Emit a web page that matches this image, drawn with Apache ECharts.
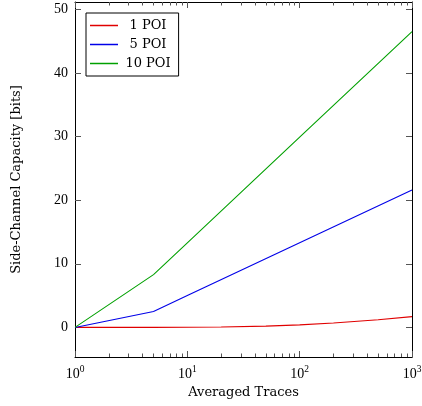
<!DOCTYPE html>
<html><head><meta charset="utf-8">
<script src="https://cdn.jsdelivr.net/npm/echarts@6/dist/echarts.min.js"></script>
<style>html,body{margin:0;padding:0;background:#fff}#c{width:422px;height:406px}</style>
</head><body><div id="c"></div>
<script>
// ---- data ----
const tracesRed = [1, 5, 10, 20, 50, 100, 200, 500, 1000];
const poi1 = [0, 0.01, 0.02, 0.06, 0.2, 0.4, 0.7, 1.2, 1.7];
const tracesLin = [1, 5, 10, 100, 1000];
const poi5 = [0, 2.5, 5.0, 13.3, 21.6];
const poi10 = [0, 8.3, 13.3, 29.9, 46.5];
const seriesNames = ['1 POI', '5 POI', '10 POI'];
const yTicks = [0, 10, 20, 30, 40, 50];
const xMajor = [1, 10, 100, 1000];
const xMinor = [2, 3, 4, 5, 6, 7, 8, 9, 20, 30, 40, 50, 60, 70, 80, 90, 200, 300, 400, 500, 600, 700, 800, 900];
const xTitle = 'Averaged Traces';
const yTitle = 'Side-Channel Capacity [bits]';

const TF = 'DejaVu Serif';
const NF = 'Liberation Serif';
const pairs = (xs, ys) => xs.map((x, i) => [x, ys[i]]);
const minorLog = xMinor.map(v => Math.log10(v));
const tickColor = '#555';

const xAxisBase = (pos, showLabel) => ({
  type: 'log', logBase: 10, min: 1, max: 1000, position: pos,
  axisLine: { show: true, onZero: false, lineStyle: { color: '#000', width: 1 } },
  axisTick: { show: true, inside: true, length: 6, customValues: xMajor, lineStyle: { color: tickColor, width: 1 } },
  splitLine: { show: false },
  axisLabel: showLabel ? {
    show: true, margin: 7, customValues: xMajor,
    formatter: v => '{b|10}{s|' + Math.round(Math.log10(v)) + '}',
    rich: {
      b: { fontFamily: NF, fontSize: 14, color: '#000', verticalAlign: 'bottom' },
      s: { fontFamily: NF, fontSize: 9.5, color: '#000', verticalAlign: 'bottom', padding: [0, 0, 7, 0] }
    }
  } : { show: false },
  name: showLabel ? xTitle : '', nameLocation: 'middle', nameGap: 29,
  nameTextStyle: { fontFamily: TF, fontSize: 13, color: '#000' }
});
const xMinorAxis = (pos) => ({
  type: 'value', min: 0, max: 3, position: pos,
  axisLine: { show: false, onZero: false },
  axisTick: { show: true, inside: true, length: 3.5, customValues: minorLog, lineStyle: { color: tickColor, width: 1 } },
  axisLabel: { show: false }, splitLine: { show: false }
});
const yAxisBase = (pos, showLabel) => ({
  type: 'value', min: -4.65, max: 51.15, position: pos,
  axisLine: { show: true, onZero: false, lineStyle: { color: '#000', width: 1 } },
  axisTick: { show: true, inside: true, length: 6, customValues: yTicks, lineStyle: { color: tickColor, width: 1 } },
  splitLine: { show: false },
  axisLabel: showLabel ? { show: true, margin: 7, customValues: yTicks, fontFamily: NF, fontSize: 14, color: '#000' } : { show: false },
  name: showLabel ? yTitle : '', nameLocation: 'middle', nameGap: 52,
  nameTextStyle: { fontFamily: TF, fontSize: 13, color: '#000' }
});

const chart = echarts.init(document.getElementById('c'), null, { renderer: 'canvas' });
chart.setOption({
  animation: false,
  backgroundColor: '#fff',
  grid: { left: 75, right: 10, top: 2, bottom: 49, containLabel: false, outerBoundsMode: 'none' },
  xAxis: [xAxisBase('bottom', true), xAxisBase('top', false), xMinorAxis('bottom'), xMinorAxis('top')],
  yAxis: [yAxisBase('left', true), yAxisBase('right', false)],
  legend: {
    orient: 'vertical', left: 86, top: 13,
    backgroundColor: '#fff', borderColor: '#000', borderWidth: 1, borderRadius: 0,
    padding: [6, 8, 6, 4], itemGap: 6, itemWidth: 28, itemHeight: 1.5, icon: 'rect',
    formatter: n => '{a|' + n + '}',
    textStyle: { fontFamily: TF, fontSize: 13, color: '#000',
      rich: { a: { fontFamily: TF, fontSize: 13, color: '#000', width: 50, align: 'center' } } },
    data: seriesNames
  },
  series: [
    { name: seriesNames[0], type: 'line', data: pairs(tracesRed, poi1), showSymbol: false, symbol: 'none',
      color: '#e00000', lineStyle: { color: '#e00000', width: 1.1 } },
    { name: seriesNames[1], type: 'line', data: pairs(tracesLin, poi5), showSymbol: false, symbol: 'none',
      color: '#0000e8', lineStyle: { color: '#0000e8', width: 1.1 } },
    { name: seriesNames[2], type: 'line', data: pairs(tracesLin, poi10), showSymbol: false, symbol: 'none',
      color: '#00a000', lineStyle: { color: '#00a000', width: 1.1 } }
  ]
});
</script>
</body></html>
